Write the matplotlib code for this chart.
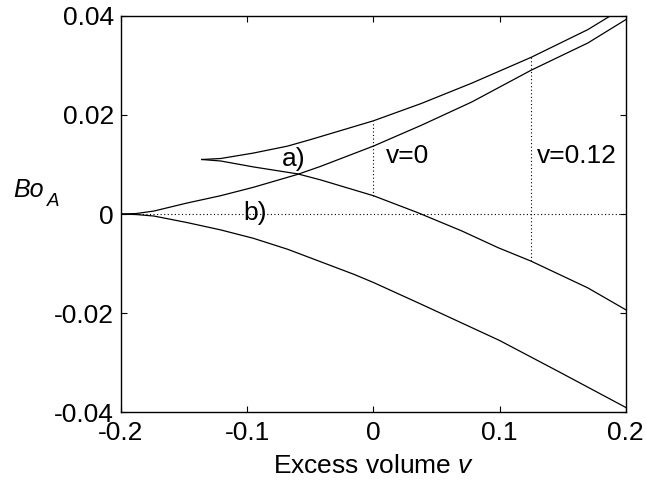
import numpy as np
import matplotlib
matplotlib.use("Agg")
import matplotlib.pyplot as plt

# values (excess volume v, Bo_A)
va_up = [-0.136, -0.121, -0.095, -0.068, -0.050, 0.0, 0.038, 0.078, 0.125, 0.170, 0.188]
bo_a_up = [0.0110, 0.0112, 0.0123, 0.0137, 0.0150, 0.0188, 0.0223, 0.0264, 0.0316, 0.0372, 0.0400]

va_lo = [-0.136, -0.121, -0.095, -0.060, -0.042, 0.0, 0.035, 0.070, 0.099, 0.125, 0.170, 0.200]
bo_a_lo = [0.0110, 0.0107, 0.0095, 0.0081, 0.0069, 0.0037, 0.0003, -0.0034, -0.0068, -0.0095, -0.0149, -0.0193]

vb_up = [-0.200, -0.188, -0.174, -0.148, -0.121, -0.095, -0.060, -0.042, 0.0, 0.038, 0.078, 0.125, 0.170, 0.200]
bo_b_up = [0.0, 0.0001, 0.0006, 0.0022, 0.0037, 0.0054, 0.0080, 0.0096, 0.0137, 0.0179, 0.0226, 0.0290, 0.0345, 0.0392]

vb_lo = [-0.200, -0.188, -0.174, -0.148, -0.121, -0.095, -0.068, -0.042, -0.015, 0.0, 0.038, 0.100, 0.147, 0.200]
bo_b_lo = [0.0, -0.0001, -0.0004, -0.0017, -0.0032, -0.0049, -0.0071, -0.0096, -0.0122, -0.0138, -0.0182, -0.0255, -0.0318, -0.0390]

v_marks = [0.0, 0.125]
v_mark_labels = ["v=0", "v=0.12"]
xticks = [-0.2, -0.1, 0, 0.1, 0.2]
xtick_labels = ["-0.2", "-0.1", "0", "0.1", "0.2"]
yticks = [-0.04, -0.02, 0, 0.02, 0.04]
ytick_labels = ["-0.04", "-0.02", "0", "0.02", "0.04"]

plt.rcParams['font.family'] = ['Liberation Sans', 'DejaVu Sans']
plt.rcParams['mathtext.fontset'] = 'custom'
plt.rcParams['mathtext.rm'] = 'Liberation Sans'
plt.rcParams['mathtext.it'] = 'Liberation Sans:italic'

fs = 19
fig = plt.figure(figsize=(6.46, 4.88), dpi=100)
ax = fig.add_axes([0.1873, 0.155, 0.7813, 0.8128])

lw = 0.9
for xs, ys in [(va_up, bo_a_up), (va_lo, bo_a_lo), (vb_up, bo_b_up), (vb_lo, bo_b_lo)]:
    ax.plot(xs, ys, color='black', lw=lw)

# dotted guides
ax.plot([-0.2, 0.2], [0, 0], color='black', lw=0.8, ls=(0, (1, 2.2)))
for v in v_marks:
    top = np.interp(v, va_up, bo_a_up)
    bot = np.interp(v, va_lo, bo_a_lo)
    ax.plot([v, v], [bot, top], color='black', lw=0.8, ls=(0, (1, 2.2)))

ax.text(v_marks[0] + 0.01, 0.0118, v_mark_labels[0], fontsize=fs, va='center', ha='left')
ax.text(v_marks[1] + 0.0045, 0.0118, v_mark_labels[1], fontsize=fs, va='center', ha='left')
ax.text(-0.0635, 0.0110, "a)", fontsize=fs, va='center', ha='center')
ax.text(-0.0937, 0.0003, "b)", fontsize=fs, va='center', ha='center')

ax.set_xlim(-0.2, 0.2)
ax.set_ylim(-0.04, 0.04)
ax.set_xticks(xticks)
ax.set_xticklabels(xtick_labels)
ax.set_yticks(yticks)
ax.set_yticklabels(ytick_labels)
ax.tick_params(direction='in', length=4, width=0.8, top=True, right=True, labelsize=fs)
ax.tick_params(axis='x', pad=6)
ax.tick_params(axis='y', pad=5)
for s in ax.spines.values():
    s.set_linewidth(1.0)

ax.set_xlabel("Excess volume $v$", fontsize=fs, labelpad=7)
fig.text(13 / 646, 1 - 190 / 488, "Bo", fontsize=18, style='italic', ha='left', va='center')
fig.text(47 / 646, 1 - 202 / 488, "A", fontsize=13.5, style='italic', ha='left', va='center')

fig.savefig("out.png", dpi=100)
